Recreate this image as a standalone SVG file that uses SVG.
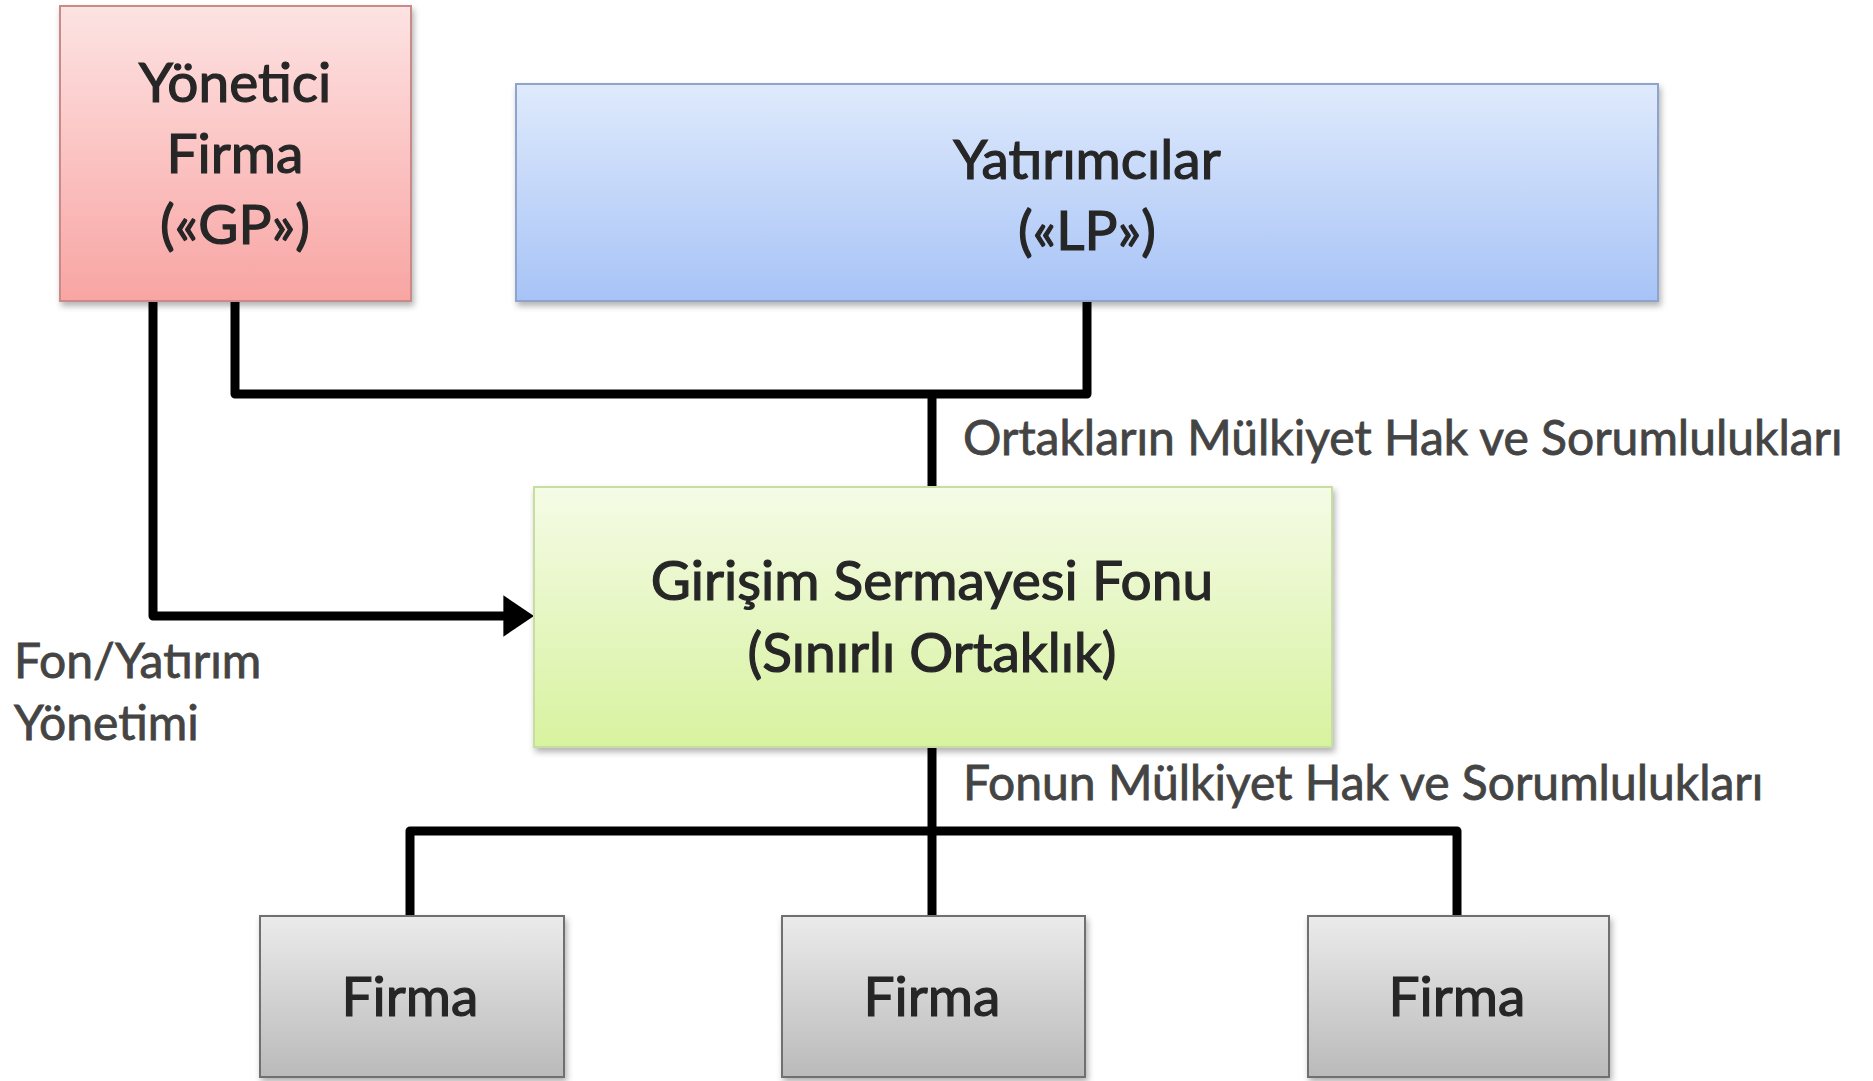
<svg xmlns="http://www.w3.org/2000/svg" width="1873" height="1081" viewBox="0 0 1873 1081">
<style>
.t{font-family:Lato,"Open Sans","Liberation Sans",sans-serif;fill:#262626;stroke:#262626;stroke-width:1.2;font-size:55px;text-anchor:middle;dominant-baseline:central}
.lbl{font-family:Lato,"Open Sans","Liberation Sans",sans-serif;fill:#444;stroke:#444;stroke-width:0.8;font-size:48px;dominant-baseline:central}
.conn{fill:none;stroke:#000;stroke-width:9;stroke-linejoin:round}
.box{filter:url(#sh)}
</style>
<defs>
<filter id="sh" x="-5%" y="-5%" width="110%" height="115%"><feDropShadow dx="2" dy="4" stdDeviation="3" flood-color="#000" flood-opacity="0.3"/></filter>
<linearGradient id="gRed" x1="0" y1="0" x2="0" y2="1"><stop offset="0" stop-color="#fde3e3"/><stop offset="1" stop-color="#f8a5a3"/></linearGradient>
<linearGradient id="gBlue" x1="0" y1="0" x2="0" y2="1"><stop offset="0" stop-color="#dfeafc"/><stop offset="1" stop-color="#a7c3f6"/></linearGradient>
<linearGradient id="gGreen" x1="0" y1="0" x2="0" y2="1"><stop offset="0" stop-color="#f5fbe6"/><stop offset="1" stop-color="#d7f29f"/></linearGradient>
<linearGradient id="gGray" x1="0" y1="0" x2="0" y2="1"><stop offset="0" stop-color="#ebebeb"/><stop offset="1" stop-color="#bababa"/></linearGradient>
<marker id="arr" markerWidth="4" markerHeight="5" refX="0.96" refY="2.3" orient="auto" markerUnits="strokeWidth"><path d="M0,0 L3.4,2.3 L0,4.6 Z" fill="#000"/></marker>
</defs>
<rect width="1873" height="1081" fill="#fff"/>
<g id="connectors">
<path class="conn" d="M235,301 V394 H1087 V301"/>
<path class="conn" d="M932,394 V487"/>
<path class="conn" d="M153,301 V616 H512" marker-end="url(#arr)"/>
<path class="conn" d="M932,747 V916"/>
<path class="conn" d="M410,916 V831 H1457 V916"/>
</g>
<g id="gp" class="box">
<rect x="60" y="6" width="351" height="295" fill="url(#gRed)" stroke="#c98a8a" stroke-width="2"/>
<text class="t" x="235" y="81">Yönetici</text>
<text class="t" x="235" y="152">Firma</text>
<text class="t" x="235" y="223">(«GP»)</text>
</g>
<g id="lp" class="box">
<rect x="516" y="84" width="1142" height="217" fill="url(#gBlue)" stroke="#8ea4cc" stroke-width="2"/>
<text class="t" x="1087" y="158">Yatırımcılar</text>
<text class="t" x="1087" y="229">(«LP»)</text>
</g>
<g id="fund" class="box">
<rect x="534" y="487" width="798" height="260" fill="url(#gGreen)" stroke="#c6dea0" stroke-width="2"/>
<text class="t" x="932" y="579">Girişim Sermayesi Fonu</text>
<text class="t" x="932" y="651">(Sınırlı Ortaklık)</text>
</g>
<g id="firma1" class="box">
<rect x="260" y="916" width="304" height="161" fill="url(#gGray)" stroke="#6f6f6f" stroke-width="2"/>
<text class="t" x="410" y="995">Firma</text>
</g>
<g id="firma2" class="box">
<rect x="782" y="916" width="303" height="161" fill="url(#gGray)" stroke="#6f6f6f" stroke-width="2"/>
<text class="t" x="932" y="995">Firma</text>
</g>
<g id="firma3" class="box">
<rect x="1308" y="916" width="301" height="161" fill="url(#gGray)" stroke="#6f6f6f" stroke-width="2"/>
<text class="t" x="1457" y="995">Firma</text>
</g>
<g id="labels">
<text class="lbl" x="963" y="436">Ortakların Mülkiyet Hak ve Sorumlulukları</text>
<text class="lbl" x="963" y="781">Fonun Mülkiyet Hak ve Sorumlulukları</text>
<text class="lbl" x="14" y="659">Fon/Yatırım</text>
<text class="lbl" x="14" y="721">Yönetimi</text>
</g>
</svg>
